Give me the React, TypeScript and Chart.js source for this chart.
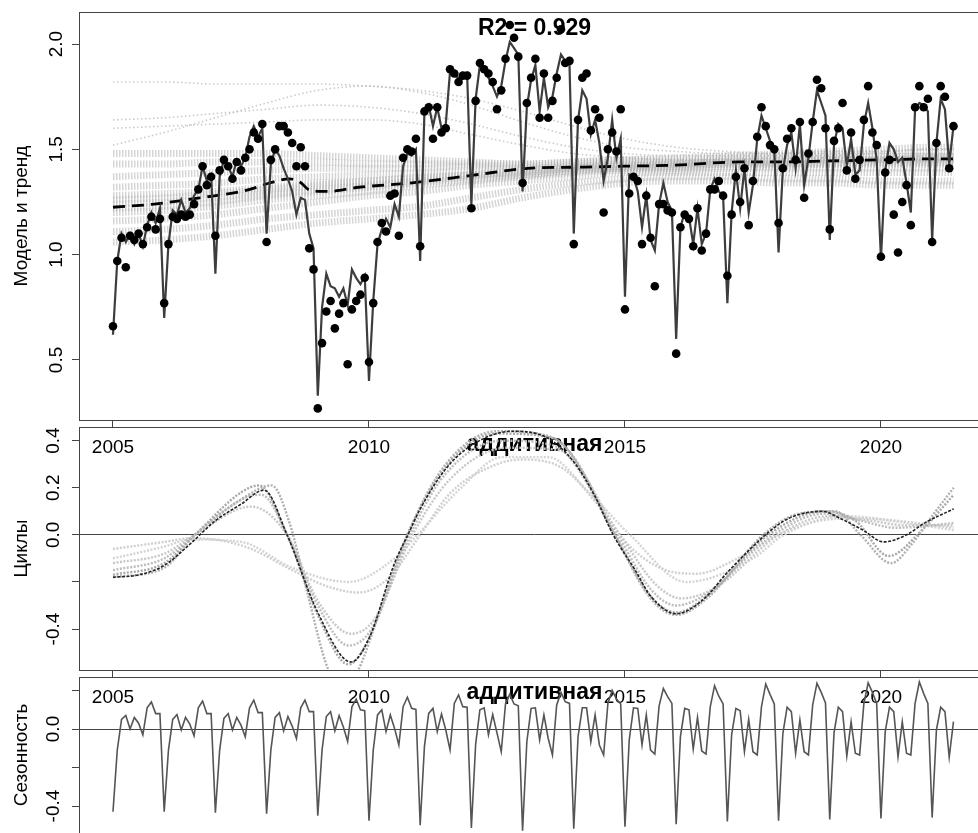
import React, { useEffect, useRef } from 'react';
import { Chart, registerables } from 'chart.js';

Chart.register(...registerables);

const FONT = "'Liberation Sans', Arial, Helvetica, sans-serif";
const START_YEAR = 2005;
const X_MIN = 2004.336;
const X_MAX = 2022.13;
const xTickValues = [2005, 2010, 2015, 2020];

// Observed monthly values (points), Jan 2005 .. Jun 2021
const observed = [
  0.66, 0.97, 1.08, 0.94, 1.09, 1.07, 1.10, 1.05, 1.13, 1.18, 1.12, 1.17,
  0.77, 1.05, 1.18, 1.17, 1.19, 1.18, 1.19, 1.24, 1.31, 1.42, 1.33, 1.37,
  1.09, 1.40, 1.45, 1.42, 1.36, 1.44, 1.40, 1.46, 1.50, 1.58, 1.55, 1.62,
  1.06, 1.45, 1.50, 1.61, 1.61, 1.58, 1.53, 1.42, 1.51, 1.42, 1.03, 0.93,
  0.27, 0.58, 0.73, 0.78, 0.65, 0.72, 0.77, 0.48, 0.74, 0.78, 0.81, 0.89,
  0.49, 0.77, 1.06, 1.15, 1.11, 1.28, 1.29, 1.09, 1.46, 1.50, 1.49, 1.55,
  1.04, 1.68, 1.70, 1.55, 1.70, 1.58, 1.60, 1.88, 1.86, 1.82, 1.85, 1.85,
  1.22, 1.73, 1.91, 1.88, 1.86, 1.82, 1.69, 1.78, 1.93, 2.09, 2.03, 1.94,
  1.34, 1.72, 1.84, 1.93, 1.65, 1.86, 1.65, 1.73, 1.84, 2.07, 1.91, 1.92,
  1.05, 1.64, 1.84, 1.86, 1.59, 1.69, 1.65, 1.20, 1.50, 1.58, 1.49, 1.69,
  0.74, 1.29, 1.37, 1.35, 1.05, 1.28, 1.08, 0.85, 1.24, 1.24, 1.21, 1.20,
  0.53, 1.13, 1.19, 1.17, 1.04, 1.22, 1.02, 1.10, 1.31, 1.31, 1.35, 1.28,
  0.90, 1.19, 1.37, 1.25, 1.41, 1.14, 1.35, 1.56, 1.70, 1.61, 1.52, 1.50,
  1.15, 1.41, 1.55, 1.60, 1.45, 1.63, 1.27, 1.48, 1.63, 1.83, 1.79, 1.60,
  1.12, 1.54, 1.60, 1.72, 1.40, 1.58, 1.36, 1.45, 1.64, 1.80, 1.58, 1.52,
  0.99, 1.39, 1.45, 1.19, 1.01, 1.25, 1.33, 1.14, 1.70, 1.80, 1.70, 1.74,
  1.06, 1.53, 1.80, 1.75, 1.41, 1.61,
];

// Model fit (dark line)
const model = [
  0.62, 0.97, 1.10, 1.06, 1.10, 1.05, 1.10, 1.04, 1.14, 1.20, 1.15, 1.22,
  0.70, 1.05, 1.21, 1.19, 1.26, 1.20, 1.22, 1.28, 1.31, 1.42, 1.35, 1.38,
  0.91, 1.37, 1.45, 1.42, 1.37, 1.45, 1.42, 1.46, 1.56, 1.61, 1.56, 1.60,
  1.10, 1.43, 1.50, 1.47, 1.41, 1.36, 1.30, 1.19, 1.27, 1.26, 1.10, 1.03,
  0.33, 0.75, 0.91, 0.85, 0.84, 0.80, 0.84, 0.76, 0.93, 0.89, 0.86, 0.90,
  0.40, 0.78, 1.05, 1.12, 1.17, 1.13, 1.24, 1.18, 1.42, 1.48, 1.47, 1.50,
  0.97, 1.68, 1.71, 1.61, 1.70, 1.60, 1.62, 1.87, 1.85, 1.84, 1.84, 1.86,
  1.24, 1.74, 1.90, 1.87, 1.84, 1.80, 1.75, 1.80, 1.92, 2.01, 1.98, 1.95,
  1.30, 1.70, 1.83, 1.90, 1.68, 1.84, 1.70, 1.75, 1.86, 1.95, 1.92, 1.90,
  1.10, 1.64, 1.78, 1.74, 1.57, 1.64, 1.53, 1.35, 1.46, 1.64, 1.46, 1.55,
  0.80, 1.38, 1.37, 1.30, 1.13, 1.28, 1.07, 1.02, 1.24, 1.34, 1.25, 1.21,
  0.60, 1.13, 1.20, 1.18, 1.05, 1.22, 1.05, 1.10, 1.31, 1.36, 1.30, 1.28,
  0.77, 1.20, 1.40, 1.22, 1.41, 1.20, 1.33, 1.55, 1.66, 1.60, 1.54, 1.50,
  1.01, 1.40, 1.52, 1.58, 1.41, 1.62, 1.33, 1.46, 1.63, 1.78, 1.72, 1.66,
  1.07, 1.52, 1.62, 1.60, 1.42, 1.55, 1.38, 1.40, 1.62, 1.72, 1.60, 1.45,
  0.98, 1.40, 1.53, 1.50, 1.44, 1.46, 1.34, 1.20, 1.69, 1.72, 1.71, 1.68,
  1.07, 1.53, 1.74, 1.69, 1.43, 1.61,
];

// Trend (dashed)
const trendYears = [2005.0, 2005.8, 2006.7, 2007.6, 2008.1, 2008.45, 2008.65, 2008.85, 2009.2, 2009.8, 2010.8, 2012.0, 2013.1, 2014.0, 2015.0, 2016.0, 2017.25, 2018.0, 2019.0, 2020.0, 2021.0, 2021.42];
const trendValues = [1.225, 1.24, 1.27, 1.305, 1.343, 1.36, 1.345, 1.305, 1.30, 1.32, 1.34, 1.376, 1.41, 1.415, 1.42, 1.425, 1.44, 1.44, 1.445, 1.45, 1.455, 1.455];

// Ensemble of trends (light grey dotted)
const ensembleYears = [2005, 2006, 2007, 2008, 2009, 2010, 2011, 2012, 2013, 2014, 2015, 2016, 2017, 2018, 2019, 2020, 2021, 2021.42];
// outlying members
const ens01 = [1.82, 1.82, 1.81, 1.81, 1.81, 1.80, 1.78, 1.74, 1.68, 1.61, 1.55, 1.51, 1.49, 1.48, 1.48, 1.48, 1.48, 1.48];
const ens02 = [1.52, 1.58, 1.65, 1.72, 1.78, 1.80, 1.77, 1.71, 1.63, 1.56, 1.51, 1.49, 1.48, 1.48, 1.49, 1.49, 1.50, 1.50];
const ens03 = [1.64, 1.65, 1.67, 1.69, 1.71, 1.70, 1.67, 1.62, 1.56, 1.51, 1.48, 1.47, 1.47, 1.47, 1.47, 1.48, 1.48, 1.48];
const ens04 = [1.60, 1.61, 1.62, 1.63, 1.64, 1.64, 1.62, 1.57, 1.52, 1.48, 1.46, 1.45, 1.45, 1.46, 1.46, 1.46, 1.47, 1.47];
// dense core members
const ens05 = [1.48, 1.48, 1.48, 1.48, 1.47, 1.46, 1.45, 1.44, 1.43, 1.44, 1.45, 1.46, 1.47, 1.48, 1.49, 1.50, 1.51, 1.51];
const ens06 = [1.43, 1.43, 1.44, 1.44, 1.44, 1.43, 1.43, 1.43, 1.43, 1.44, 1.45, 1.45, 1.46, 1.47, 1.48, 1.48, 1.49, 1.49];
const ens07 = [1.37, 1.38, 1.39, 1.40, 1.41, 1.41, 1.41, 1.42, 1.42, 1.43, 1.44, 1.44, 1.45, 1.45, 1.46, 1.46, 1.46, 1.46];
const ens08 = [1.32, 1.33, 1.34, 1.36, 1.37, 1.38, 1.39, 1.40, 1.41, 1.42, 1.43, 1.43, 1.44, 1.44, 1.45, 1.45, 1.45, 1.45];
const ens09 = [1.28, 1.29, 1.30, 1.32, 1.34, 1.35, 1.37, 1.38, 1.39, 1.41, 1.42, 1.42, 1.43, 1.43, 1.44, 1.44, 1.44, 1.44];
const ens10 = [1.24, 1.25, 1.27, 1.29, 1.31, 1.33, 1.35, 1.37, 1.38, 1.40, 1.41, 1.41, 1.42, 1.42, 1.43, 1.43, 1.43, 1.43];
const ens11 = [1.20, 1.21, 1.23, 1.26, 1.28, 1.30, 1.33, 1.35, 1.37, 1.39, 1.40, 1.40, 1.41, 1.41, 1.41, 1.41, 1.41, 1.41];
const ens12 = [1.16, 1.17, 1.19, 1.22, 1.25, 1.28, 1.30, 1.33, 1.35, 1.37, 1.39, 1.39, 1.39, 1.39, 1.39, 1.39, 1.39, 1.39];
const ens13 = [1.11, 1.12, 1.14, 1.17, 1.19, 1.21, 1.23, 1.27, 1.31, 1.34, 1.36, 1.37, 1.37, 1.36, 1.36, 1.35, 1.35, 1.35];
const ens14 = [1.06, 1.07, 1.09, 1.12, 1.15, 1.17, 1.19, 1.22, 1.27, 1.31, 1.34, 1.35, 1.35, 1.34, 1.34, 1.33, 1.33, 1.33];
const ens15 = [1.22, 1.23, 1.25, 1.28, 1.30, 1.32, 1.34, 1.36, 1.38, 1.40, 1.41, 1.42, 1.43, 1.43, 1.43, 1.44, 1.44, 1.44];
const ens16 = [1.26, 1.27, 1.29, 1.31, 1.33, 1.35, 1.36, 1.38, 1.40, 1.41, 1.42, 1.43, 1.44, 1.44, 1.45, 1.45, 1.46, 1.46];
const ensembleOuter = [ens01, ens02, ens03, ens04];
const ensembleCore = [ens05, ens06, ens07, ens08, ens09, ens10, ens11, ens12, ens13, ens14, ens15, ens16];

// Cycles: main curve and ensemble variants (keypoints)
const cycleMainX = [2005.0, 2005.5, 2006.0, 2006.5, 2007.0, 2007.5, 2007.95, 2008.4, 2009.0, 2009.65, 2010.0, 2010.5, 2010.76, 2011.0, 2011.5, 2012.0, 2012.8, 2013.5, 2014.0, 2014.4, 2014.77, 2015.2, 2015.5, 2016.0, 2016.5, 2017.0, 2017.4, 2017.8, 2018.2, 2018.85, 2019.2, 2019.65, 2020.05, 2020.5, 2020.85, 2021.42];
const cycleMainY = [-0.18, -0.17, -0.13, -0.04, 0.06, 0.13, 0.19, 0.0, -0.33, -0.54, -0.44, -0.12, 0.0, 0.11, 0.28, 0.38, 0.44, 0.41, 0.31, 0.17, 0.0, -0.15, -0.26, -0.335, -0.28, -0.16, -0.07, 0.01, 0.07, 0.10, 0.07, 0.02, -0.03, 0.0, 0.05, 0.11];
const cycleV1X = [2005.0, 2006.0, 2006.6, 2007.5, 2008.1, 2008.45, 2008.8, 2009.2, 2009.5, 2009.8, 2010.2, 2010.75, 2011.5, 2012.5, 2013.5, 2014.0, 2014.8, 2015.5, 2016.0, 2016.6, 2017.7, 2018.4, 2019.1, 2019.6, 2020.2, 2020.6, 2021.0, 2021.42];
const cycleV1Y = [-0.18, -0.14, 0.0, 0.15, 0.21, 0.05, -0.25, -0.57, -0.65, -0.57, -0.33, 0.0, 0.30, 0.44, 0.42, 0.33, 0.0, -0.27, -0.34, -0.27, 0.0, 0.09, 0.10, 0.0, -0.12, -0.04, 0.08, 0.20];
const cycleV2X = [2005.0, 2006.0, 2006.6, 2007.5, 2007.85, 2008.4, 2009.0, 2009.6, 2010.0, 2010.75, 2011.5, 2012.5, 2013.6, 2014.8, 2015.5, 2016.0, 2016.6, 2017.8, 2018.9, 2019.5, 2020.15, 2020.8, 2021.42];
const cycleV2Y = [-0.17, -0.12, 0.0, 0.18, 0.21, 0.0, -0.34, -0.55, -0.44, 0.0, 0.29, 0.43, 0.41, 0.0, -0.26, -0.33, -0.26, 0.0, 0.10, 0.06, -0.09, 0.02, 0.17];
const cycleV3X = [2005.0, 2006.0, 2006.6, 2007.6, 2007.9, 2008.4, 2009.0, 2009.6, 2010.05, 2010.8, 2011.5, 2012.6, 2013.6, 2014.85, 2015.5, 2016.0, 2016.6, 2017.9, 2018.9, 2019.6, 2020.3, 2021.42];
const cycleV3Y = [-0.15, -0.10, 0.0, 0.16, 0.17, 0.0, -0.30, -0.47, -0.40, 0.0, 0.26, 0.40, 0.38, 0.0, -0.23, -0.30, -0.25, 0.0, 0.09, 0.06, 0.03, 0.05];
const cycleV4X = [2005.0, 2006.0, 2006.6, 2007.7, 2008.4, 2009.0, 2009.65, 2010.1, 2010.85, 2011.6, 2012.7, 2013.7, 2014.9, 2015.6, 2016.1, 2016.8, 2018.0, 2019.0, 2019.8, 2020.5, 2021.42];
const cycleV4Y = [-0.12, -0.08, 0.0, 0.12, 0.0, -0.28, -0.42, -0.36, 0.0, 0.24, 0.37, 0.36, 0.0, -0.21, -0.27, -0.22, 0.0, 0.08, 0.06, 0.04, 0.04];
const cycleV5X = [2005.0, 2006.0, 2006.5, 2007.0, 2007.7, 2008.5, 2009.2, 2009.8, 2010.4, 2011.0, 2011.6, 2012.5, 2013.0, 2013.8, 2014.5, 2015.1, 2015.8, 2016.4, 2017.2, 2018.0, 2018.8, 2019.6, 2020.3, 2021.42];
const cycleV5Y = [-0.06, -0.03, -0.015, -0.02, -0.06, -0.15, -0.22, -0.245, -0.18, 0.0, 0.18, 0.30, 0.32, 0.28, 0.12, -0.05, -0.15, -0.165, -0.10, 0.0, 0.06, 0.07, 0.06, 0.03];
const cycleV6X = [2005.0, 2006.0, 2006.5, 2007.5, 2008.5, 2009.6, 2010.5, 2010.95, 2011.8, 2012.6, 2013.5, 2014.3, 2015.1, 2016.2, 2017.5, 2018.1, 2019.3, 2020.5, 2021.42];
const cycleV6Y = [-0.10, -0.05, -0.02, -0.03, -0.14, -0.20, -0.10, 0.0, 0.20, 0.33, 0.33, 0.18, 0.0, -0.20, -0.10, 0.0, 0.08, 0.05, 0.02];

// Seasonal component, monthly
const seasonal = [
  -0.43, -0.11, 0.05, 0.07, 0.00, 0.06, 0.03, -0.03, 0.11, 0.14, 0.08, 0.08,
  -0.43, -0.11, 0.05, 0.075, -0.005, 0.06, 0.025, -0.035, 0.11, 0.145, 0.08, 0.08,
  -0.435, -0.11, 0.055, 0.08, -0.005, 0.06, 0.02, -0.04, 0.11, 0.15, 0.085, 0.085,
  -0.44, -0.11, 0.06, 0.085, -0.01, 0.065, 0.015, -0.05, 0.11, 0.15, 0.09, 0.09,
  -0.45, -0.11, 0.065, 0.09, -0.01, 0.07, 0.01, -0.065, 0.115, 0.155, 0.10, 0.095,
  -0.476, -0.11, 0.073, 0.10, -0.014, 0.073, 0.003, -0.083, 0.116, 0.165, 0.107, 0.102,
  -0.50, -0.09, 0.081, 0.107, -0.014, 0.078, -0.005, -0.109, 0.133, 0.177, 0.116, 0.113,
  -0.514, -0.08, 0.10, 0.11, -0.03, 0.075, -0.02, -0.118, 0.13, 0.18, 0.13, 0.12,
  -0.528, -0.066, 0.107, 0.11, -0.057, 0.073, -0.048, -0.135, 0.125, 0.19, 0.142, 0.133,
  -0.518, -0.04, 0.11, 0.11, -0.066, 0.073, -0.083, -0.135, 0.133, 0.20, 0.155, 0.13,
  -0.507, -0.057, 0.11, 0.107, -0.083, 0.073, -0.109, -0.13, 0.12, 0.21, 0.168, 0.133,
  -0.495, -0.04, 0.107, 0.10, -0.105, 0.06, -0.114, -0.13, 0.116, 0.225, 0.17, 0.13,
  -0.48, -0.03, 0.107, 0.095, -0.118, 0.05, -0.118, -0.135, 0.116, 0.234, 0.18, 0.13,
  -0.476, -0.025, 0.113, 0.09, -0.126, 0.047, -0.118, -0.135, 0.125, 0.237, 0.19, 0.135,
  -0.47, -0.02, 0.113, 0.09, -0.14, 0.038, -0.126, -0.135, 0.133, 0.24, 0.19, 0.133,
  -0.464, -0.014, 0.113, 0.09, -0.144, 0.038, -0.126, -0.135, 0.133, 0.244, 0.185, 0.133,
  -0.46, -0.005, 0.113, 0.09, -0.147, 0.038,
];

const topTicks = [0.5, 1.0, 1.5, 2.0];
const topTickLabels = ['0.5', '1.0', '1.5', '2.0'];
const cycleTicks = [-0.4, -0.2, 0, 0.2, 0.4];
const cycleTickLabels = ['-0.4', '', '0.0', '0.2', '0.4'];
const seasonTicks = [-0.4, -0.2, 0, 0.2];
const seasonTickLabels = ['-0.4', '', '0.0', ''];

const monthly = (arr: number[]) => arr.map((v, i) => ({ x: START_YEAR + i / 12, y: v }));
const paired = (xs: number[], ys: number[]) => xs.map((x, i) => ({ x, y: ys[i] }));

const boxPlugin = {
  id: 'panelBox',
  afterDraw(chart: any) {
    const { ctx, chartArea: a } = chart;
    ctx.save();
    ctx.strokeStyle = '#444';
    ctx.lineWidth = 1;
    ctx.strokeRect(Math.round(a.left) + 0.5, Math.round(a.top) + 0.5, Math.round(a.right - a.left), Math.round(a.bottom - a.top));
    ctx.restore();
  },
};

const panelTitlePlugin = {
  id: 'panelTitle',
  beforeDatasetsDraw(chart: any, _args: any, opts: any) {
    if (!opts || !opts.text) return;
    const { ctx, chartArea } = chart;
    ctx.save();
    ctx.font = `bold ${opts.size || 23}px ${FONT}`;
    ctx.fillStyle = '#000';
    ctx.textAlign = 'center';
    ctx.textBaseline = 'middle';
    ctx.fillText(opts.text, (chartArea.left + chartArea.right) / 2, opts.y);
    ctx.restore();
  },
};

function xScale(axisHeight: number) {
  return {
    type: 'linear',
    min: X_MIN,
    max: X_MAX,
    afterBuildTicks: (s: any) => { s.ticks = xTickValues.map((v) => ({ value: v })); },
    afterFit: (s: any) => { s.height = axisHeight; s.paddingLeft = 0; s.paddingRight = 0; },
    ticks: {
      autoSkip: false, minRotation: 0, maxRotation: 0, padding: 9, color: '#000',
      font: { family: FONT, size: 19 },
      callback: (v: any) => String(v),
    },
    grid: { drawOnChartArea: false, drawTicks: true, tickLength: 7, color: '#444', lineWidth: 1 },
    border: { display: false },
  };
}

function yScale(min: number, max: number, tickValues: number[], tickLabels: string[], title: string, zeroLine: boolean) {
  return {
    type: 'linear',
    min,
    max,
    afterBuildTicks: (s: any) => { s.ticks = tickValues.map((v) => ({ value: v })); },
    afterFit: (s: any) => { s.width = 79; s.paddingTop = 0; s.paddingBottom = 0; },
    ticks: {
      autoSkip: false, minRotation: 90, maxRotation: 90, crossAlign: 'center', padding: 2, color: '#000',
      font: { family: FONT, size: 19 },
      callback: (_v: any, i: number) => tickLabels[i],
    },
    grid: {
      drawOnChartArea: zeroLine,
      drawTicks: true,
      tickLength: 7,
      lineWidth: 1,
      color: (c: any) => (zeroLine && c.tick && c.tick.value === 0 ? '#444' : 'rgba(0,0,0,0)'),
      tickColor: '#444',
    },
    border: { display: false },
    title: { display: true, text: title, color: '#000', font: { family: FONT, size: 19 }, padding: { top: 10, bottom: 0 } },
  };
}

function baseOptions(padTop: number, axisHeight: number, yMin: number, yMax: number, ticks: number[], labels: string[], title: string, zero: boolean, panelTitle: string, titleY: number) {
  return {
    responsive: false,
    maintainAspectRatio: false,
    animation: false,
    layout: { padding: { top: padTop, right: 10, left: 0, bottom: 0 } },
    plugins: {
      legend: { display: false },
      tooltip: { enabled: false },
      panelTitle: { text: panelTitle, y: titleY, size: 23 },
    },
    scales: {
      x: xScale(axisHeight),
      y: yScale(yMin, yMax, ticks, labels, title, zero),
    },
  };
}

export default function App() {
  const topRef = useRef<HTMLCanvasElement>(null);
  const midRef = useRef<HTMLCanvasElement>(null);
  const botRef = useRef<HTMLCanvasElement>(null);

  useEffect(() => {
    const topChart = new Chart(topRef.current as HTMLCanvasElement, {
      type: 'line',
      data: {
        datasets: [
          {
            label: 'Наблюдения', data: monthly(observed), showLine: false,
            pointRadius: 4.3, pointBackgroundColor: '#000', pointBorderColor: '#000', pointBorderWidth: 0,
          },
          {
            label: 'Модель', data: monthly(model), borderColor: '#3d3d3d', borderWidth: 2.2,
            pointRadius: 0, tension: 0,
          },
          {
            label: 'Тренд', data: paired(trendYears, trendValues), borderColor: '#000', borderWidth: 2.8,
            borderDash: [12, 7], pointRadius: 0, cubicInterpolationMode: 'monotone',
          },
          ...ensembleCore.map((s, k) => ({
            label: 'Ансамбль ' + (k + 1), data: paired(ensembleYears, s),
            borderColor: 'rgba(175,175,175,0.52)', borderWidth: 7, borderDash: [1.5, 1.5],
            pointRadius: 0, cubicInterpolationMode: 'monotone',
          })),
          ...ensembleOuter.map((s, k) => ({
            label: 'Ансамбль ' + (k + 13), data: paired(ensembleYears, s),
            borderColor: 'rgba(185,185,185,0.75)', borderWidth: 1.6, borderDash: [1.5, 2.5],
            pointRadius: 0, cubicInterpolationMode: 'monotone',
          })),
        ],
      } as any,
      options: baseOptions(12, 50, 0.215, 2.152, topTicks, topTickLabels, 'Модель и тренд', false, 'R2 = 0.929', 29) as any,
      plugins: [boxPlugin, panelTitlePlugin],
    });

    const cycleVariants = [
      [cycleV1X, cycleV1Y, '#b0b0b0'],
      [cycleV2X, cycleV2Y, '#a8a8a8'],
      [cycleV3X, cycleV3Y, '#bdbdbd'],
      [cycleV4X, cycleV4Y, '#c8c8c8'],
      [cycleV5X, cycleV5Y, '#d0d0d0'],
      [cycleV6X, cycleV6Y, '#d4d4d4'],
    ] as any[];

    const midChart = new Chart(midRef.current as HTMLCanvasElement, {
      type: 'line',
      data: {
        datasets: [
          {
            label: 'Цикл', data: paired(cycleMainX, cycleMainY), borderColor: '#222', borderWidth: 1.6,
            borderDash: [3, 1.5], pointRadius: 0, cubicInterpolationMode: 'monotone',
          },
          ...cycleVariants.map((v, k) => ({
            label: 'Вариант ' + (k + 1), data: paired(v[0], v[1]), borderColor: v[2], borderWidth: 2.4,
            borderDash: [2, 1.5], pointRadius: 0, cubicInterpolationMode: 'monotone',
          })),
        ],
      } as any,
      options: baseOptions(27, 50, -0.574, 0.458, cycleTicks, cycleTickLabels, 'Циклы', true, 'аддитивная', 45) as any,
      plugins: [boxPlugin, panelTitlePlugin],
    });

    const botChart = new Chart(botRef.current as HTMLCanvasElement, {
      type: 'line',
      data: {
        datasets: [
          {
            label: 'Сезонность', data: monthly(seasonal), borderColor: '#555', borderWidth: 1.6,
            pointRadius: 0, tension: 0,
          },
        ],
      } as any,
      options: baseOptions(27, 50, -0.54, 0.27, seasonTicks, seasonTickLabels, 'Сезонность', true, 'аддитивная', 43) as any,
      plugins: [boxPlugin, panelTitlePlugin],
    });

    return () => {
      topChart.destroy();
      midChart.destroy();
      botChart.destroy();
    };
  }, []);

  return (
    <div style={{ position: 'absolute', left: 0, top: 0, width: 978, height: 833, overflow: 'hidden', background: '#fff' }}>
      <canvas ref={topRef} width={1000} height={470} style={{ position: 'absolute', left: 0, top: 0 }} />
      <canvas ref={midRef} width={1000} height={320} style={{ position: 'absolute', left: 0, top: 400 }} />
      <canvas ref={botRef} width={1000} height={233} style={{ position: 'absolute', left: 0, top: 650 }} />
    </div>
  );
}
